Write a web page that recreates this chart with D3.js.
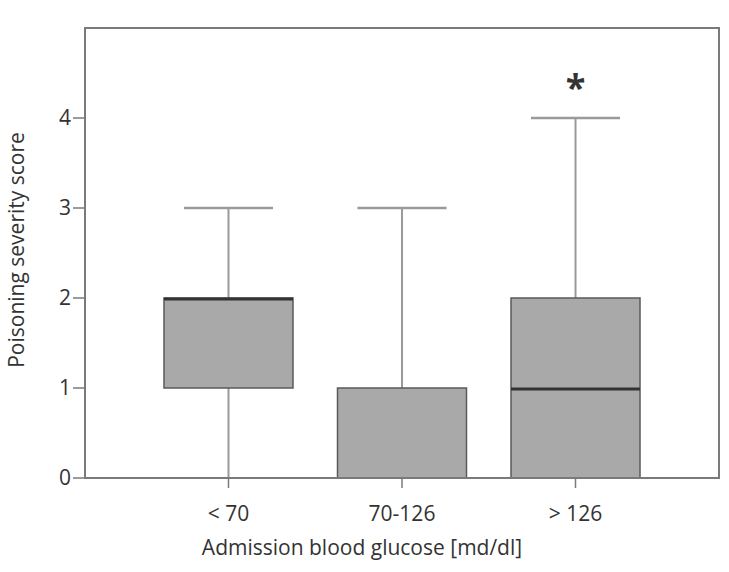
<html><head>
<style>
  body, html { margin: 0; padding: 0; background: #fff; }
  text { font-family: 'Open Sans', 'Noto Sans', Arial, sans-serif; fill: #333; }
</style>
<script src="https://d3js.org/d3.v7.min.js"></script>
</head>
<body>
<svg id="chart" width="729" height="572"></svg>
<script>
// box plot summaries
const groups = ["< 70", "70-126", "> 126"];
const whiskerLow = [0, 0, 0];
const q1 = [1, 0, 0];
const median = [2, 0, 1];
const q3 = [2, 1, 2];
const whiskerHigh = [3, 3, 4];
const starAt = [null, null, 4.4];
const yTicks = [0, 1, 2, 3, 4];

const svg = d3.select("#chart");
const plot = { left: 85, right: 719, top: 28, bottom: 478 };

const x = d3.scalePoint().domain(groups).range([plot.left, plot.right]).padding(0.827);
const y = d3.scaleLinear().domain([0, 5]).range([plot.bottom, plot.top]);

const boxW = 129, capW = 89;

svg.append("clipPath").attr("id", "clip")
  .append("rect")
  .attr("x", plot.left).attr("y", plot.top)
  .attr("width", plot.right - plot.left).attr("height", plot.bottom - plot.top);

// y axis ticks
const yAxis = svg.append("g");
yAxis.selectAll("line").data(yTicks).enter().append("line")
  .attr("x1", plot.left - 12).attr("x2", plot.left)
  .attr("y1", d => y(d)).attr("y2", d => y(d))
  .attr("stroke", "#7a7a7a").attr("stroke-width", 1.5);
yAxis.selectAll("text").data(yTicks).enter().append("text")
  .attr("x", plot.left - 14).attr("y", d => y(d))
  .attr("dy", "0.35em").attr("text-anchor", "end")
  .attr("font-size", 21)
  .text(d => d);

// x ticks
const xAxis = svg.append("g");
xAxis.selectAll("line").data(groups).enter().append("line")
  .attr("x1", d => x(d)).attr("x2", d => x(d))
  .attr("y1", plot.bottom).attr("y2", plot.bottom + 10)
  .attr("stroke", "#7a7a7a").attr("stroke-width", 1.5);
xAxis.selectAll("text").data(groups).enter().append("text")
  .attr("x", d => x(d)).attr("y", 521)
  .attr("text-anchor", "middle").attr("font-size", 21)
  .text(d => d);

// boxes
const boxes = svg.append("g").attr("clip-path", "url(#clip)")
  .selectAll("g.box").data(groups).enter().append("g").attr("class", "box");

boxes.append("line") // whisker stem
  .attr("x1", d => x(d)).attr("x2", d => x(d))
  .attr("y1", (d, i) => y(whiskerLow[i])).attr("y2", (d, i) => y(whiskerHigh[i]))
  .attr("stroke", "#9a9a9a").attr("stroke-width", 2);

boxes.append("line") // upper cap
  .attr("x1", d => x(d) - capW / 2).attr("x2", d => x(d) + capW / 2)
  .attr("y1", (d, i) => y(whiskerHigh[i])).attr("y2", (d, i) => y(whiskerHigh[i]))
  .attr("stroke", "#9a9a9a").attr("stroke-width", 2.5);

boxes.append("rect")
  .attr("x", d => x(d) - boxW / 2).attr("width", boxW)
  .attr("y", (d, i) => y(q3[i]))
  .attr("height", (d, i) => y(q1[i]) - y(q3[i]))
  .attr("fill", "#a9a9a9").attr("stroke", "#5a5a5a").attr("stroke-width", 1.5);

boxes.append("line") // median
  .attr("x1", d => x(d) - boxW / 2).attr("x2", d => x(d) + boxW / 2)
  .attr("y1", (d, i) => y(median[i]) + 1).attr("y2", (d, i) => y(median[i]) + 1)
  .attr("stroke", "#333").attr("stroke-width", 3);

boxes.filter((d, i) => starAt[i] !== null).append("text")
  .attr("x", d => x(d))
  .attr("y", d => y(starAt[groups.indexOf(d)]))
  .attr("dy", "0.5em")
  .attr("text-anchor", "middle").attr("font-size", 36).attr("font-weight", "bold")
  .text("*");

// frame on top
svg.append("rect")
  .attr("x", plot.left).attr("y", plot.top)
  .attr("width", plot.right - plot.left).attr("height", plot.bottom - plot.top)
  .attr("fill", "none").attr("stroke", "#7a7a7a").attr("stroke-width", 2);

// axis titles
svg.append("text")
  .attr("x", 362).attr("y", 555)
  .attr("text-anchor", "middle").attr("font-size", 21)
  .text("Admission blood glucose [md/dl]");

svg.append("text")
  .attr("transform", `translate(24,250) rotate(-90)`)
  .attr("text-anchor", "middle").attr("font-size", 21)
  .text("Poisoning severity score");
</script>
</body></html>
